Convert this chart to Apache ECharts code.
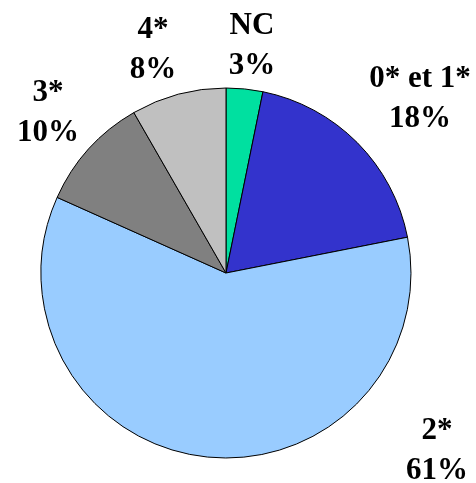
<!DOCTYPE html>
<html>
<head>
<meta charset="utf-8">
<script src="https://cdn.jsdelivr.net/npm/echarts@6/dist/echarts.min.js"></script>
<style>
  html, body { margin: 0; padding: 0; background: #fff; }
  #chart { width: 476px; height: 483px; }
</style>
</head>
<body>
<div id="chart"></div>
<script>
// ===== Data =====
const categories = ['NC', '0* et 1*', '2*', '3*', '4*'];
const values     = [3.2, 18.7, 59.8, 10.0, 8.3];
const pctLabels  = ['3%', '18%', '61%', '10%', '8%'];
const colors     = ['#00e0a0', '#3333cc', '#99ccff', '#808080', '#c0c0c0'];

// label anchor points (center of the two-line block)
const labelPos = [[252, 46], [420, 99], [437, 451], [48, 113], [153, 50]];

const chart = echarts.init(document.getElementById('chart'), null, { renderer: 'canvas' });

chart.setOption({
  animation: false,
  series: [{
    type: 'pie',
    center: [226, 273],
    radius: 185,
    startAngle: 90,
    clockwise: true,
    itemStyle: { borderColor: '#000', borderWidth: 1 },
    label: {
      show: true,
      position: 'outside',
      formatter: p => categories[p.dataIndex] + '\n' + pctLabels[p.dataIndex],
      fontFamily: '"Liberation Serif", "Times New Roman", serif',
      fontWeight: 'bold',
      fontSize: 31,
      lineHeight: 40,
      color: '#000',
      align: 'center',
      overflow: 'none',
      width: 200
    },
    labelLine: { show: false },
    labelLayout: p => ({
      x: labelPos[p.dataIndex][0],
      y: labelPos[p.dataIndex][1],
      align: 'center',
      verticalAlign: 'middle'
    }),
    data: categories.map((c, i) => ({
      name: c,
      value: values[i],
      itemStyle: { color: colors[i] }
    }))
  }]
});
</script>
</body>
</html>
